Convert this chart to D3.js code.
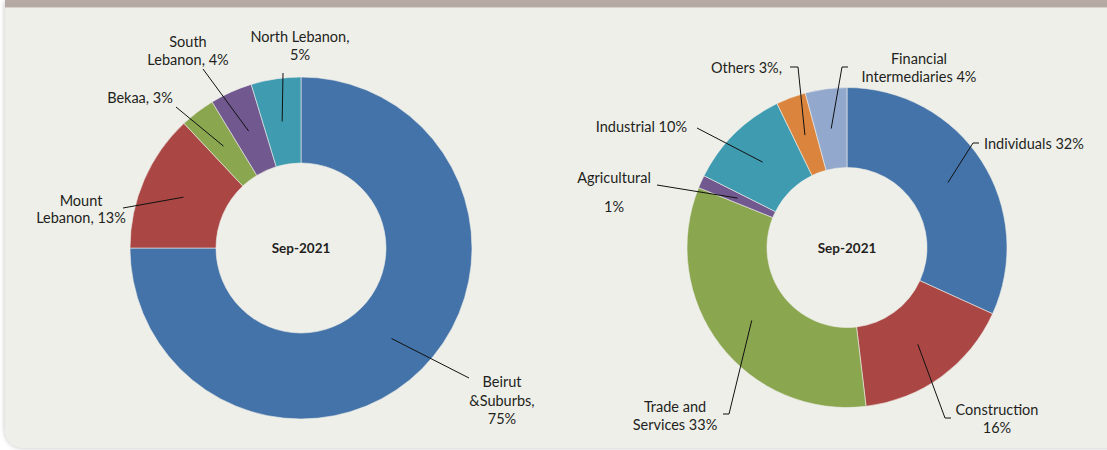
<!DOCTYPE html>
<html>
<head>
<meta charset="utf-8">
<script src="https://cdn.jsdelivr.net/npm/d3@7"></script>
<style>
  html, body { margin: 0; padding: 0; background: #ffffff; }
  svg { display: block; font-family: Lato, "Noto Sans", sans-serif; }
  .lbl { font-size: 14.5px; fill: #231f20; }
  .center { font-size: 13.5px; font-weight: bold; fill: #231f20; }
</style>
</head>
<body>
<svg id="chart" width="1107" height="450"></svg>
<script>
// data
const leftCats   = ["Beirut &Suburbs", "Mount Lebanon", "Bekaa", "South Lebanon", "North Lebanon"];
const leftValues = [75, 13, 3.3, 4, 4.7];
const leftText   = [["Beirut", "&Suburbs,", "75%"], ["Mount", "Lebanon, 13%"], ["Bekaa, 3%"], ["South", "Lebanon, 4%"], ["North Lebanon,", "5%"]];

const rightCats   = ["Individuals", "Construction", "Trade and Services", "Agricultural", "Industrial", "Others", "Financial Intermediaries"];
const rightValues = [31.8, 16.3, 33, 1.3, 10.4, 3, 4.2];
const rightText   = [["Individuals 32%"], ["Construction", "16%"], ["Trade and", "Services 33%"], ["Agricultural", "", "1%"], ["Industrial 10%"], ["Others 3%,"], ["Financial", "Intermediaries 4%"]];

const centerTitle = "Sep-2021";

const leftColors  = ["#4373a8", "#aa4744", "#8aa64f", "#71588f", "#3f9bb0"];
const rightColors = ["#4373a8", "#aa4744", "#8aa64f", "#71588f", "#3f9bb0", "#db843d", "#92a8cd"];

// label layout: text anchor point, leader end, optional elbow
const leftLayout = [
  {x: 502, y: 387, anchor: "middle", lh: 18.5, end: [469, 378]},
  {x: 81,  y: 206, anchor: "middle", lh: 17,   end: [123, 208]},
  {x: 140, y: 103, anchor: "middle", lh: 17,   end: [176, 107]},
  {x: 188, y: 47,  anchor: "middle", lh: 18,   end: [203, 69]},
  {x: 300, y: 42,  anchor: "middle", lh: 18,   end: [283, 73]}
];
const rightLayout = [
  {x: 984, y: 149, anchor: "start",  lh: 18,   end: [979, 143], elbow: [973, 143]},
  {x: 997, y: 415, anchor: "middle", lh: 18,   end: [951, 418], elbow: [945, 418]},
  {x: 675, y: 412, anchor: "middle", lh: 18,   end: [723, 414], elbow: [729, 414]},
  {x: 614, y: 183, anchor: "middle", lh: 14.5, end: [657, 185]},
  {x: 687, y: 132, anchor: "end",    lh: 18,   end: [697, 128]},
  {x: 782, y: 73,  anchor: "end",    lh: 18,   end: [790, 67],  elbow: [798, 67]},
  {x: 919, y: 64,  anchor: "middle", lh: 18,   end: [848, 67],  elbow: [842, 67]}
];

const svg = d3.select("#chart");
const W = +svg.attr("width"), H = +svg.attr("height");

// panel + shadow
const defs = svg.append("defs");
const f = defs.append("filter").attr("id", "shadow").attr("x", "-5%").attr("y", "-5%").attr("width", "110%").attr("height", "110%");
f.append("feDropShadow").attr("dx", -1).attr("dy", 1).attr("stdDeviation", 2).attr("flood-color", "#000").attr("flood-opacity", 0.18);

const px = 5, py = 0, pr = 22, pb = 448;
svg.append("path")
  .attr("d", `M${px},${py} H${W + 10} V${pb} H${px + pr} Q${px},${pb} ${px},${pb - pr} Z`)
  .attr("fill", "#efefea")
  .attr("filter", "url(#shadow)");
svg.append("rect")
  .attr("x", px).attr("y", 0).attr("width", W - px).attr("height", 7)
  .attr("fill", "#b5aaa3");
svg.append("line")
  .attr("x1", px).attr("x2", W).attr("y1", 7.5).attr("y2", 7.5)
  .attr("stroke", "#d6d0cb").attr("stroke-width", 1);

function donut(cfg) {
  const g = svg.append("g").attr("transform", `translate(${cfg.cx},${cfg.cy})`);
  const pie = d3.pie().sort(null).value(d => d.v);
  const arc = d3.arc().innerRadius(cfg.r0).outerRadius(cfg.r1);
  const rows = cfg.cats.map((c, i) => ({c, v: cfg.values[i], text: cfg.text[i], lay: cfg.layout[i], col: cfg.colors[i]}));
  const arcs = pie(rows);

  g.selectAll("path.slice")
    .data(arcs)
    .join("path")
      .attr("class", "slice")
      .attr("d", arc)
      .attr("fill", d => d.data.col)
      .attr("stroke", "#efefea")
      .attr("stroke-width", 0.6);

  // leaders
  svg.append("g").selectAll("polyline")
    .data(arcs)
    .join("polyline")
      .attr("points", d => {
        const [x, y] = arc.centroid(d);
        const pts = [d.data.lay.end];
        if (d.data.lay.elbow) pts.push(d.data.lay.elbow);
        pts.push([cfg.cx + x, cfg.cy + y]);
        return pts.map(p => p.join(",")).join(" ");
      })
      .attr("fill", "none")
      .attr("stroke", "#111")
      .attr("stroke-width", 1);

  // labels, one text per line
  arcs.forEach(d => {
    const lay = d.data.lay;
    d.data.text.forEach((line, i) => {
      if (!line) return;
      svg.append("text")
        .attr("class", "lbl")
        .attr("text-anchor", lay.anchor)
        .attr("x", lay.x)
        .attr("y", lay.y + i * lay.lh)
        .text(line);
    });
  });

  g.append("text")
    .attr("class", "center")
    .attr("text-anchor", "middle")
    .attr("y", 5)
    .text(centerTitle);
}

donut({cx: 301, cy: 248, r0: 85, r1: 171, cats: leftCats, values: leftValues, text: leftText, layout: leftLayout, colors: leftColors});
donut({cx: 847, cy: 247.5, r0: 80, r1: 160, cats: rightCats, values: rightValues, text: rightText, layout: rightLayout, colors: rightColors});
</script>
</body>
</html>
